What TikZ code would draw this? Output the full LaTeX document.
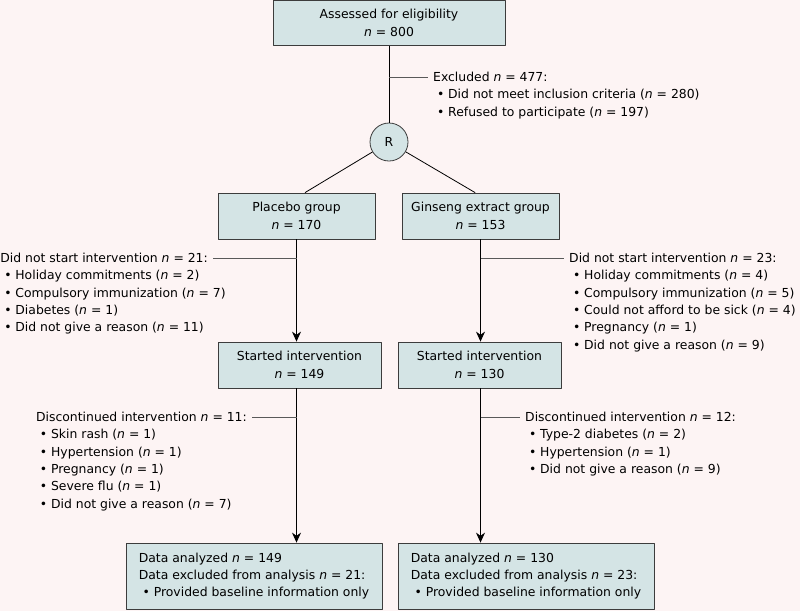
\documentclass[tikz,border=0pt]{standalone}
\usepackage{fontspec}
\setmainfont{DejaVu Sans}
\usetikzlibrary{arrows.meta,positioning}
\definecolor{mauNen}{RGB}{253,244,244}
\definecolor{mauHop}{RGB}{212,228,229}
\definecolor{mauVien}{RGB}{60,60,60}
\newcommand{\itm}{\makebox[15pt][c]{\textbullet}}
\begin{document}
\begin{tikzpicture}[x=1pt,y=-1pt,font=\fontsize{12.4}{17.3}\selectfont,line join=round,>={Stealth[length=10pt,width=9pt]},
	hop/.style={draw=mauVien,fill=mauHop,line width=0.8pt,align=center,inner sep=0pt},
	ghichu/.style={inner xsep=5pt,inner ysep=0pt},
	noi/.style={draw=black!65,line width=0.6pt},
	ten/.style={draw=black,line width=0.8pt}]
	% Nen
	\useasboundingbox (0,0) rectangle (800,611);
	\fill[mauNen] (0,0) rectangle (800,611);
	% Cac hop
	\node[hop,minimum width=232pt,minimum height=45pt] (assess) at (389,23) {Assessed for eligibility\\\textit{n} = 800};
	\node[hop,circle,minimum size=38pt] (rand) at (389,142) {R};
	\node[hop,minimum width=157pt,minimum height=46pt] (placebo) at (296.5,216) {Placebo group\\\textit{n} = 170};
	\node[hop,minimum width=157pt,minimum height=46pt] (ginseng) at (480.5,216) {Ginseng extract group\\\textit{n} = 153};
	\node[hop,minimum width=163pt,minimum height=46pt] (startP) at (299.5,365) {Started intervention\\\textit{n} = 149};
	\node[hop,minimum width=163pt,minimum height=46pt] (startG) at (479.5,365) {Started intervention\\\textit{n} = 130};
	\node[hop,minimum width=256pt,minimum height=66pt,align=left] (dataP) at (254,576) {Data analyzed \textit{n} = 149\\Data excluded from analysis \textit{n} = 21:\\\itm Provided baseline information only};
	\node[hop,minimum width=256pt,minimum height=66pt,align=left] (dataG) at (526,576) {Data analyzed \textit{n} = 130\\Data excluded from analysis \textit{n} = 23:\\\itm Provided baseline information only};
	% Tieu de ghi chu
	\node[ghichu,anchor=west] (exclH) at (428,77) {Excluded \textit{n} = 477:};
	\node[ghichu,anchor=east] (nostartPH) at (213,258) {Did not start intervention \textit{n} = 21:};
	\node[ghichu,anchor=west] (nostartGH) at (564,258) {Did not start intervention \textit{n} = 23:};
	\node[ghichu,anchor=east] (discPH) at (252,417) {Discontinued intervention \textit{n} = 11:};
	\node[ghichu,anchor=west] (discGH) at (520,417) {Discontinued intervention \textit{n} = 12:};
	% Cac dong liet ke
	\foreach \t [count=\i] in {{Did not meet inclusion criteria (\textit{n} = 280)},{Refused to participate (\textit{n} = 197)}}
	\node[ghichu,anchor=base west] (exclH-\i) at ([yshift=-17.3*\i pt]exclH.base west) {\itm\t};
	\foreach \t [count=\i] in {{Holiday commitments (\textit{n} = 2)},{Compulsory immunization (\textit{n} = 7)},{Diabetes (\textit{n} = 1)},{Did not give a reason (\textit{n} = 11)}}
	\node[ghichu,anchor=base west] (nostartPH-\i) at ([yshift=-17.3*\i pt]nostartPH.base west) {\itm\t};
	\foreach \t [count=\i] in {{Holiday commitments (\textit{n} = 4)},{Compulsory immunization (\textit{n} = 5)},{Could not afford to be sick (\textit{n} = 4)},{Pregnancy (\textit{n} = 1)},{Did not give a reason (\textit{n} = 9)}}
	\node[ghichu,anchor=base west] (nostartGH-\i) at ([yshift=-17.3*\i pt]nostartGH.base west) {\itm\t};
	\foreach \t [count=\i] in {{Skin rash (\textit{n} = 1)},{Hypertension (\textit{n} = 1)},{Pregnancy (\textit{n} = 1)},{Severe flu (\textit{n} = 1)},{Did not give a reason (\textit{n} = 7)}}
	\node[ghichu,anchor=base west] (discPH-\i) at ([yshift=-17.3*\i pt]discPH.base west) {\itm\t};
	\foreach \t [count=\i] in {{Type-2 diabetes (\textit{n} = 2)},{Hypertension (\textit{n} = 1)},{Did not give a reason (\textit{n} = 9)}}
	\node[ghichu,anchor=base west] (discGH-\i) at ([yshift=-17.3*\i pt]discGH.base west) {\itm\t};
	% Duong noi
	\draw[ten] (assess) -- (rand);
	\draw[ten] (rand) -- (placebo.70);
	\draw[ten] (rand) -- (ginseng.103);
	\draw[ten,->] (placebo) -- (placebo |- startP.north);
	\draw[ten,->] (ginseng) -- (ginseng |- startG.north);
	\draw[ten,->] (startP.south -| placebo) -- (placebo |- dataP.north);
	\draw[ten,->] (startG.south -| ginseng) -- (ginseng |- dataG.north);
	% Nhanh loai tru
	\draw[noi] (assess |- exclH.west) -- (exclH.west);
	\draw[noi] (placebo |- nostartPH.east) -- (nostartPH.east);
	\draw[noi] (ginseng |- nostartGH.west) -- (nostartGH.west);
	\draw[noi] (placebo |- discPH.east) -- (discPH.east);
	\draw[noi] (ginseng |- discGH.west) -- (discGH.west);
\end{tikzpicture}
\end{document}
